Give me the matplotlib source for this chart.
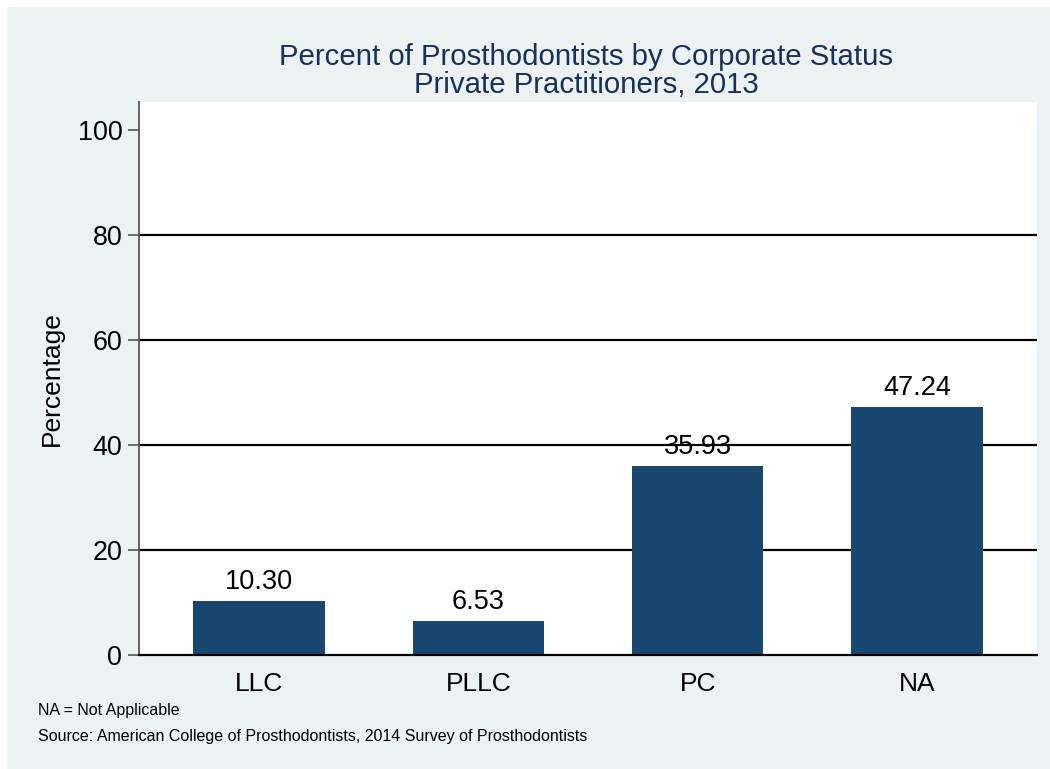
import numpy as np
import matplotlib.pyplot as plt
from matplotlib.patches import Rectangle

plt.rcParams['font.family'] = ['Liberation Sans', 'DejaVu Sans']

# Data
categories = ['LLC', 'PLLC', 'PC', 'NA']
percentages = [10.30, 6.53, 35.93, 47.24]
yticks = [0, 20, 40, 60, 80, 100]

bar_color = '#1A476F'
bg_color = '#EAF2F3'
title_color = '#1C2E5B'

W, H = 1050, 769
fig = plt.figure(figsize=(W / 100, H / 100), dpi=100)
fig.patch.set_facecolor('white')
# Stata style outer panel
fig.patches.append(Rectangle((7 / W, 0), 1 - 7 / W, 1 - 7 / H, transform=fig.transFigure,
                             facecolor=bg_color, edgecolor='none', zorder=-10))

ax = fig.add_axes([139 / W, 1 - 655 / H, (1037 - 139) / W, (655 - 102) / H])
ax.set_facecolor('white')

x = np.arange(len(categories))
ax.bar(x, percentages, width=0.6, color=bar_color, zorder=2)

for xi, v in zip(x, percentages):
    ax.text(xi, v + 2.3, f'{v:.2f}', ha='center', va='baseline', fontsize=19.5, zorder=1)

ax.set_xlim(-0.547, 3.547)
ax.set_ylim(0, 105.3)
ax.set_xticks(x)
ax.set_xticklabels(categories, fontsize=19)
ax.tick_params(axis='x', length=0, pad=12)
ax.set_yticks(yticks)
ax.set_yticklabels([str(t) for t in yticks], fontsize=19.4)
ax.tick_params(axis='y', length=8, width=1.2, color='#555555', pad=4)

for t in yticks[1:-1]:
    ax.axhline(t, color='black', lw=1.6, zorder=1)

for s in ['top', 'right']:
    ax.spines[s].set_visible(False)
ax.spines['left'].set_color('#555555')
ax.spines['left'].set_linewidth(1.3)
ax.spines['bottom'].set_color('black')
ax.spines['bottom'].set_linewidth(1.6)

ax.set_ylabel('Percentage', fontsize=19)
ax.yaxis.set_label_coords((64 - 139) / (1037 - 139), 0.5)

fig.text(586 / W, 1 - 57 / H, 'Percent of Prosthodontists by Corporate Status',
         ha='center', va='center', fontsize=21.2, color=title_color)
fig.text(586 / W, 1 - 85 / H, 'Private Practitioners, 2013',
         ha='center', va='center', fontsize=21.2, color=title_color)

fig.text(38 / W, 1 - 710 / H, 'NA = Not Applicable', ha='left', va='center', fontsize=11.5)
fig.text(38 / W, 1 - 736 / H, 'Source: American College of Prosthodontists, 2014 Survey of Prosthodontists',
         ha='left', va='center', fontsize=11.5)

fig.savefig('out.png', dpi=100, facecolor=fig.get_facecolor())
